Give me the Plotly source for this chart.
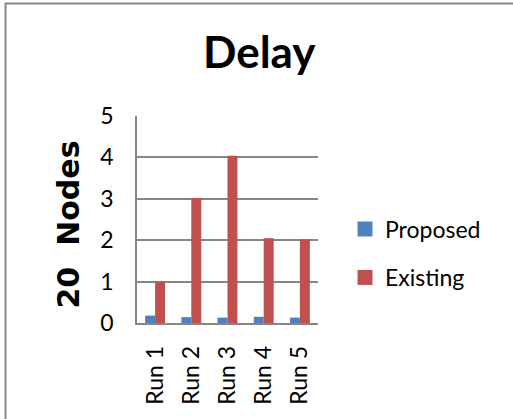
import plotly.graph_objects as go

categories = ["Run 1", "Run 2", "Run 3", "Run 4", "Run 5"]
proposed = [0.18, 0.14, 0.13, 0.15, 0.13]
existing = [1.0, 3.02, 4.04, 2.05, 2.02]
y_ticks = [0, 1, 2, 3, 4, 5]
series_names = ["Proposed", "Existing"]
series_colors = ["#4F81BD", "#C0504D"]

W, H = 513, 419
L, R, T, B = 137, 195, 116, 96
pw = W - L - R
ph = H - T - B

def px_x(x):
    return (x - L) / pw

def px_y(y):
    return (H - B - y) / ph

FONT = "Lato"

fig = go.Figure()
for vals, name, col in zip([proposed, existing], series_names, series_colors):
    fig.add_trace(go.Bar(x=categories, y=vals, name=name, showlegend=False,
                         marker=dict(color=col, line=dict(width=0))))

# legend entries (square swatches)
legend_ids = ["legend", "legend2"]
legend_y = [229, 277.5]
for name, col, lid in zip(series_names, series_colors, legend_ids):
    fig.add_trace(go.Scatter(x=[None], y=[None], mode="markers", name=name, legend=lid,
                             marker=dict(symbol="square", size=15, color=col, line=dict(width=0))))

leg_common = dict(xanchor="left", yanchor="middle", font=dict(size=23, family=FONT, color="black"),
                  itemsizing="trace", bgcolor="rgba(0,0,0,0)")

fig.update_layout(
    width=W, height=H,
    margin=dict(l=L, r=R, t=T, b=B, autoexpand=False),
    paper_bgcolor="white", plot_bgcolor="white",
    barmode="group", bargap=0.45, bargroupgap=0,
    font=dict(family=FONT, color="black", size=23),
    showlegend=True,
    legend=dict(x=px_x(345), y=px_y(legend_y[0]), **leg_common),
    legend2=dict(x=px_x(345), y=px_y(legend_y[1]), **leg_common),
)
fig.update_xaxes(showline=True, linecolor="#868686", linewidth=1.5, showgrid=False,
                 tickangle=-90, tickfont=dict(size=23, family=FONT), ticks="",
                 ticklabelstandoff=12, mirror=False, range=[-0.5, 4.5])
fig.update_yaxes(range=[0, 5], tickvals=y_ticks, showline=True, linecolor="#868686", linewidth=1.5,
                 showgrid=True, gridcolor="#868686", gridwidth=1.5, zeroline=False,
                 tickfont=dict(size=23, family=FONT), ticks="", ticklabelstandoff=17)

fig.add_annotation(text="<b>Delay</b>", x=px_x(259), y=px_y(51), xref="paper", yref="paper",
                   showarrow=False, font=dict(size=44, family=FONT, color="black"),
                   xanchor="center", yanchor="middle")
fig.add_annotation(text="<b>20  Nodes</b>", x=px_x(67.5), y=px_y(225), xref="paper", yref="paper",
                   showarrow=False, textangle=-90,
                   font=dict(size=30, family="DejaVu Sans", color="black"),
                   xanchor="center", yanchor="middle")
fig.add_shape(type="rect", xref="paper", yref="paper",
              x0=px_x(5.5), x1=px_x(530), y0=px_y(440), y1=px_y(3.5),
              line=dict(color="#868686", width=2), fillcolor="rgba(0,0,0,0)", layer="below")

fig.write_html("out.html")
